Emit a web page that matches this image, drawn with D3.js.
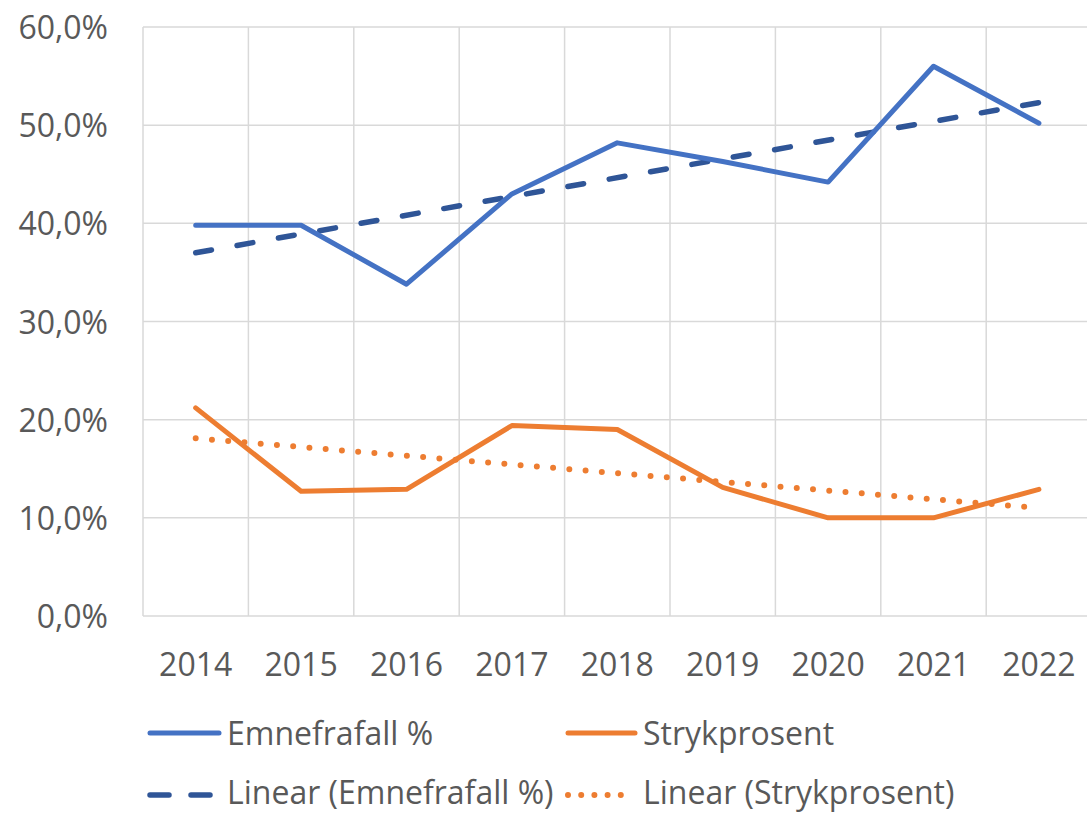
<!DOCTYPE html>
<html><head><meta charset="utf-8">
<script src="https://cdn.jsdelivr.net/npm/d3@7"></script>
<style>
html,body{margin:0;padding:0;background:#fff;overflow:hidden;}
svg{display:block;font-family:"Open Sans",sans-serif;}
</style></head>
<body><svg id="c" width="1087" height="813"></svg>
<script>
const years = ["2014","2015","2016","2017","2018","2019","2020","2021","2022"];
const emnefrafall = [39.8, 39.8, 33.8, 43.0, 48.2, 46.3, 44.2, 56.0, 50.2];
const strykprosent = [21.2, 12.7, 12.9, 19.4, 19.0, 13.1, 10.0, 10.0, 12.9];
// trend lines (start / end values)
const trendEmneYears = ["2014","2022"];
const trendEmne = [37.0, 52.3];
const trendStrykYears = ["2014","2022"];
const trendStryk = [18.1, 11.0];
const yTicks = [0, 10, 20, 30, 40, 50, 60];
const legendLabels = ["Emnefrafall %", "Strykprosent", "Linear (Emnefrafall %)", "Linear (Strykprosent)"];

(function(){
const svg = d3.select("#c");
const pLeft = 143, pTop = 27, pBottom = 616;
const bandW = 105.4;
const fs = "32px";
const x = d3.scaleBand().domain(years).range([pLeft, pLeft + bandW * years.length]).padding(0);
const y = d3.scaleLinear().domain([0, 60]).range([pBottom, pTop]);
const pRight = pLeft + bandW * years.length;
const txt = "#595959", grid = "#D9D9D9";
const cBlue = "#4472C4", cOrange = "#ED7D31", cDark = "#2F5597";

svg.append("g").selectAll("line").data(yTicks).join("line")
  .attr("x1", pLeft).attr("x2", pRight)
  .attr("y1", d => y(d)).attr("y2", d => y(d))
  .attr("stroke", grid).attr("stroke-width", 1.5);
const bounds = years.map(d => x(d)).concat([pRight]);
svg.append("g").selectAll("line").data(bounds).join("line")
  .attr("x1", d => d).attr("x2", d => d)
  .attr("y1", pTop).attr("y2", pBottom)
  .attr("stroke", grid).attr("stroke-width", 1.5);

const yAxis = d3.axisLeft(y).tickValues(yTicks).tickSize(0).tickPadding(0)
  .tickFormat(d => d3.format(".1f")(d).replace(".", ",") + "%");
const ya = svg.append("g").attr("transform", `translate(108,0)`).call(yAxis);
ya.select(".domain").remove();
ya.selectAll("text").attr("fill", txt).style("font-size", fs).style("font-family", "Open Sans").attr("dy", "0.36em");

const xAxis = d3.axisBottom(x).tickSize(0).tickPadding(0);
const xa = svg.append("g").attr("transform", `translate(0,653.5)`).call(xAxis);
xa.select(".domain").remove();
xa.selectAll("text").attr("fill", txt).style("font-size", fs).style("font-family", "Open Sans").attr("dy", "0.71em");

const cx = d => x(d) + x.bandwidth() / 2;
const line = d3.line().x(d => cx(d[0])).y(d => y(d[1]));

svg.append("path").datum(trendStrykYears.map((d, i) => [d, trendStryk[i]]))
  .attr("d", line).attr("fill", "none").attr("stroke", cOrange).attr("stroke-width", 6)
  .attr("stroke-linecap", "round").attr("stroke-dasharray", "0,16.3");
svg.append("path").datum(trendEmneYears.map((d, i) => [d, trendEmne[i]]))
  .attr("d", line).attr("fill", "none").attr("stroke", cDark).attr("stroke-width", 5.5)
  .attr("stroke-linecap", "round").attr("stroke-dasharray", "16,26");

svg.append("path").datum(years.map((d, i) => [d, strykprosent[i]]))
  .attr("d", line).attr("fill", "none").attr("stroke", cOrange).attr("stroke-width", 5)
  .attr("stroke-linejoin", "round").attr("stroke-linecap", "round");
svg.append("path").datum(years.map((d, i) => [d, emnefrafall[i]]))
  .attr("d", line).attr("fill", "none").attr("stroke", cBlue).attr("stroke-width", 5)
  .attr("stroke-linejoin", "round").attr("stroke-linecap", "round");

const legend = [
  {label: legendLabels[0], x1: 150, x2: 219, y: 733, ty: 733, color: cBlue, dash: null, w: 5, tx: 227},
  {label: legendLabels[1], x1: 568, x2: 635, y: 733, ty: 733, color: cOrange, dash: null, w: 5, tx: 643},
  {label: legendLabels[2], x1: 150, x2: 214, y: 795, ty: 792, color: cDark, dash: "19,22", w: 5.5, tx: 227},
  {label: legendLabels[3], x1: 568, x2: 633, y: 795, ty: 792, color: cOrange, dash: "0,13.2", w: 6, tx: 643},
];
const lg = svg.append("g").selectAll("g").data(legend).join("g");
lg.append("line").attr("x1", d => d.x1).attr("x2", d => d.x2).attr("y1", d => d.y).attr("y2", d => d.y)
  .attr("stroke", d => d.color).attr("stroke-width", d => d.w).attr("stroke-linecap", "round")
  .attr("stroke-dasharray", d => d.dash);
lg.append("text").attr("x", d => d.tx).attr("y", d => d.ty).attr("dy", "0.36em")
  .attr("fill", txt).style("font-size", fs).text(d => d.label);
})();
</script></body></html>
